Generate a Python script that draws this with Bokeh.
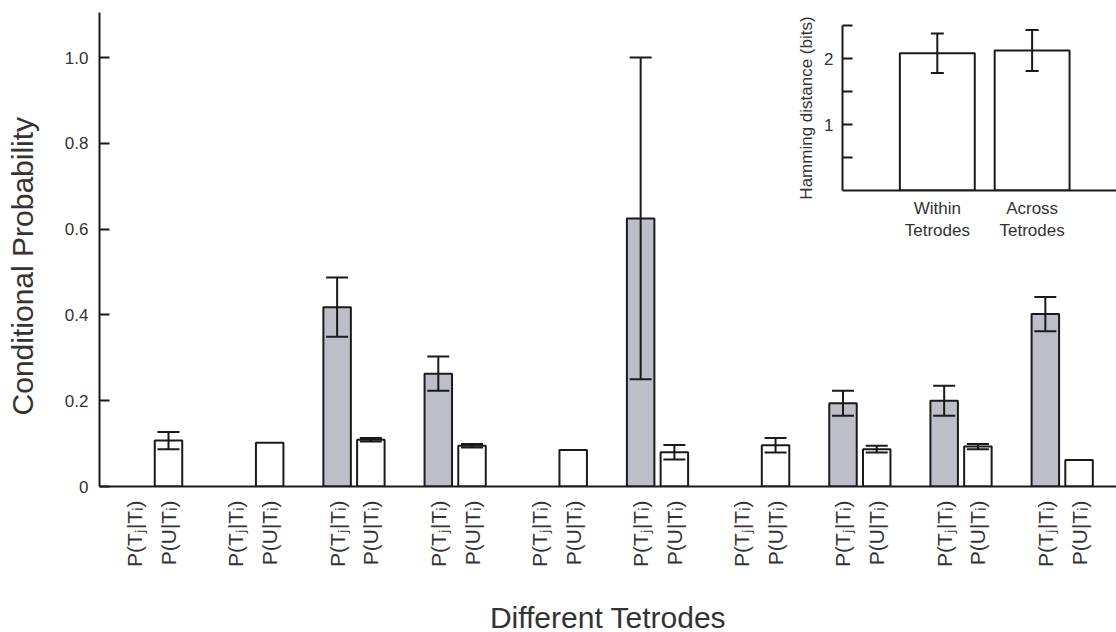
import math
from bokeh.plotting import figure
from bokeh.layouts import column
from bokeh.models import Range1d, FixedTicker, Whisker, TeeHead, ColumnDataSource
from bokeh.embed import file_html
from bokeh.resources import INLINE

# ---------------- data ----------------
groups = [1, 2, 3, 4, 5, 6, 7, 8, 9, 10]
gray_vals = [None, None, 0.418, 0.263, None, 0.625, None, 0.194, 0.200, 0.402]
gray_err = [None, None, 0.069, 0.040, None, 0.375, None, 0.029, 0.035, 0.040]
white_vals = [0.107, 0.102, 0.109, 0.095, 0.085, 0.080, 0.096, 0.087, 0.093, 0.062]
white_err = [0.020, 0.0, 0.004, 0.004, 0.0, 0.017, 0.017, 0.008, 0.006, 0.0]
label_gray = "P(T\u2C7C|T\u1D62)"
label_white = "P(U|T\u1D62)"
y_ticks = [0, 0.2, 0.4, 0.6, 0.8, 1.0]
y_tick_labels = {0: "0", 1: "1.0"}

inset_cats = ["Within\nTetrodes", "Across\nTetrodes"]
inset_vals = [2.08, 2.12]
inset_err = [0.30, 0.31]

FONT = "Liberation Sans"
GRAY = "#bdbec7"
AX = "#1a1a1a"
TXT = "#333333"

# positions: gray bar of group g at 3g, white bar at 3g+1
gx = [3 * g for g, v in zip(groups, gray_vals) if v is not None]
gy = [v for v in gray_vals if v is not None]
ge = [e for e in gray_err if e is not None]
wx = [3 * g + 1 for g in groups]

p = figure(width=1116, height=632, frame_width=1017, frame_height=474,
           x_range=Range1d(1.954, 32.11), y_range=Range1d(0, 1.105),
           output_backend="svg", toolbar_location=None,
           min_border_left=99, min_border_top=12, min_border_right=0, min_border_bottom=146)
p.outline_line_color = None
p.grid.visible = False

p.vbar(x=gx, top=gy, width=0.815, fill_color=GRAY, line_color=AX, line_width=2)
p.vbar(x=wx, top=white_vals, width=0.815, fill_color="white", line_color=AX, line_width=2)

gsrc = ColumnDataSource(dict(x=gx, lo=[v - e for v, e in zip(gy, ge)], hi=[v + e for v, e in zip(gy, ge)]))
wsel = [i for i, e in enumerate(white_err) if e > 0]
wsrc = ColumnDataSource(dict(x=[wx[i] for i in wsel],
                             lo=[white_vals[i] - white_err[i] for i in wsel],
                             hi=[white_vals[i] + white_err[i] for i in wsel]))
for src in (gsrc, wsrc):
    w = Whisker(source=src, base="x", lower="lo", upper="hi", line_color=AX, line_width=2,
                level="overlay",
                upper_head=TeeHead(size=22, line_width=2, line_color=AX),
                lower_head=TeeHead(size=22, line_width=2, line_color=AX))
    p.add_layout(w)

# x axis
ticks = []
overrides = {}
for g in groups:
    ticks += [3 * g, 3 * g + 1]
    overrides[3 * g] = label_gray
    overrides[3 * g + 1] = label_white
p.xaxis.ticker = FixedTicker(ticks=ticks)
p.xaxis.major_label_overrides = overrides
p.xaxis.major_label_orientation = math.pi / 2
p.xaxis.minor_tick_line_color = None
p.xaxis.axis_label = "Different Tetrodes"
p.xaxis.axis_label_standoff = 31
p.xaxis.major_label_standoff = 8

# y axis
p.yaxis.ticker = FixedTicker(ticks=y_ticks)
p.yaxis.major_label_overrides = y_tick_labels
p.yaxis.major_tick_in = 10
p.yaxis.major_tick_out = 0
p.yaxis.minor_tick_line_color = None
p.yaxis.axis_label = "Conditional Probability" + "\u00a0" * 4
p.yaxis.axis_label_standoff = 23
p.yaxis.major_label_standoff = 11

for ax in (p.xaxis[0], p.yaxis[0]):
    ax.axis_line_color = AX
    ax.axis_line_width = 2
    ax.major_tick_line_width = 2
    ax.major_label_text_font = FONT
    ax.major_label_text_color = TXT
    ax.axis_label_text_font = FONT
    ax.axis_label_text_font_size = "30px"
    ax.axis_label_text_font_style = "normal"
    ax.axis_label_text_color = TXT
p.yaxis.major_tick_line_color = AX
p.xaxis.major_tick_line_color = None
p.yaxis.major_label_text_font_size = "17px"
p.xaxis.major_label_text_font_size = "21px"

# ---------------- inset ----------------
# (its left border matches the main plot's, since the column aligns frames)
ins = figure(width=373, height=225, frame_width=274, frame_height=165,
             x_range=Range1d(0, 2.89), y_range=Range1d(0, 2.5),
             output_backend="svg", toolbar_location=None,
             min_border_left=99, min_border_top=10, min_border_right=0, min_border_bottom=50)
ins.outline_line_color = None
ins.grid.visible = False
ins.background_fill_alpha = 0
ins.border_fill_alpha = 0
ix = [1, 2]
ins.vbar(x=ix, top=inset_vals, width=0.79, fill_color="white", line_color=AX, line_width=2)
isrc = ColumnDataSource(dict(x=ix, lo=[v - e for v, e in zip(inset_vals, inset_err)],
                             hi=[v + e for v, e in zip(inset_vals, inset_err)]))
ins.add_layout(Whisker(source=isrc, base="x", lower="lo", upper="hi", line_color=AX, line_width=2,
                       level="overlay",
                       upper_head=TeeHead(size=13, line_width=2, line_color=AX),
                       lower_head=TeeHead(size=13, line_width=2, line_color=AX)))
ins.xaxis.ticker = FixedTicker(ticks=ix)
ins.xaxis.major_label_overrides = {1: inset_cats[0], 2: inset_cats[1]}
ins.xaxis.major_tick_line_color = None
ins.xaxis.minor_tick_line_color = None
ins.xaxis.major_label_standoff = 2
ins.yaxis.ticker = FixedTicker(ticks=[1, 2], minor_ticks=[0.5, 1.5, 2.5])
ins.yaxis.major_tick_in = 10
ins.yaxis.major_tick_out = 0
ins.yaxis.minor_tick_in = 10
ins.yaxis.minor_tick_out = 0
ins.yaxis.axis_label = "Hamming distance (bits)"
ins.yaxis.axis_label_standoff = 5
ins.yaxis.major_label_standoff = 9
for ax in (ins.xaxis[0], ins.yaxis[0]):
    ax.axis_line_color = AX
    ax.axis_line_width = 2
    ax.major_label_text_font = FONT
    ax.major_label_text_font_size = "17px"
    ax.major_label_text_color = TXT
    ax.axis_label_text_font = FONT
    ax.axis_label_text_font_size = "17px"
    ax.axis_label_text_font_style = "normal"
    ax.axis_label_text_color = TXT
ins.yaxis.major_tick_line_color = AX
ins.yaxis.major_tick_line_width = 2
ins.yaxis.minor_tick_line_color = AX
ins.yaxis.minor_tick_line_width = 2

ins.styles = {"position": "absolute", "left": "743px", "top": "15px"}

layout = column(p, ins)
open("out.html", "w").write(file_html(layout, INLINE))
